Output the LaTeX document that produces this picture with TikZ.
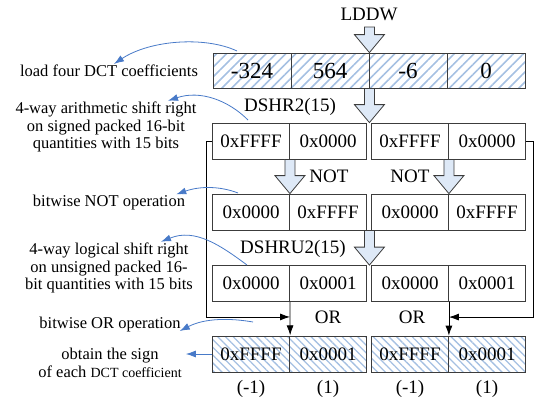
\documentclass[tikz,border=0pt]{standalone}
\usepackage{fontspec}
\setmainfont{Liberation Serif}
\usetikzlibrary{arrows.meta,calc,patterns.meta}

\definecolor{hatchblue}{RGB}{165,192,226}
\definecolor{arrowfill}{RGB}{222,233,247}
\definecolor{noteblue}{RGB}{72,122,200}
\definecolor{boxline}{RGB}{60,60,60}

% hollow block arrow from the level of #1 down to the tip #2
\newcommand{\fatarrow}[2]{%
  \path #1 coordinate (fa1) #2 coordinate (fa2);
  \draw[fat] let \p1=(fa1), \p2=(fa2) in
    (\x2-5pt,\y1) -- (\x2+5pt,\y1) -- (\x2+5pt,\y2+18pt) -- (\x2+15pt,\y2+18pt)
    -- (\x2,\y2) -- (\x2-15pt,\y2+18pt) -- (\x2-5pt,\y2+18pt) -- cycle;}

\begin{document}
\begin{tikzpicture}[x=1pt,y=-1pt,
  cell/.style={draw=boxline, line width=0.8pt, minimum width=77pt, minimum height=36pt,
    inner sep=0pt, font=\fontsize{19}{19}\selectfont},
  ldcell/.style={cell, minimum width=78pt, minimum height=35pt, font=\fontsize{23}{23}\selectfont,
    pattern={Lines[angle=45,distance=7pt,line width=1.6pt]}, pattern color=hatchblue},
  sgcell/.style={cell, pattern={Lines[angle=-45,distance=5.5pt,line width=1.3pt]}, pattern color=hatchblue},
  lbl/.style={inner sep=1pt, font=\fontsize{19}{19}\selectfont},
  remark/.style={inner sep=1pt, align=center, font=\fontsize{16.5}{17.5}\selectfont},
  fat/.style={draw=boxline, fill=arrowfill, line width=0.8pt, line join=miter},
  link/.style={draw=black, line width=0.8pt, -{Latex[length=10pt,width=7pt]}},
  note/.style={draw=noteblue, line width=0.8pt, -{Latex[length=10pt,width=7pt]}}]
\useasboundingbox (0,0) rectangle (536,399);

% loaded coefficients
\node[ldcell] (ld1) at (252,70.5) {-324};
\node[ldcell] (ld2) at (330,70.5) {564};
\node[ldcell] (ld3) at (408,70.5) {-6};
\node[ldcell] (ld4) at (486,70.5) {0};

% after arithmetic shift
\node[cell] (sr1) at (251,141) {0xFFFF};
\node[cell] (sr2) at (328,141) {0x0000};
\node[cell] (sr3) at (410,141) {0xFFFF};
\node[cell] (sr4) at (487,141) {0x0000};

% after NOT
\node[cell] (nt1) at (251,212) {0x0000};
\node[cell] (nt2) at (328,212) {0xFFFF};
\node[cell] (nt3) at (410,212) {0x0000};
\node[cell] (nt4) at (487,212) {0xFFFF};

% after logical shift
\node[cell] (lr1) at (251,283.5) {0x0000};
\node[cell] (lr2) at (328,283.5) {0x0001};
\node[cell] (lr3) at (410,283.5) {0x0000};
\node[cell] (lr4) at (487,283.5) {0x0001};

% signs
\node[sgcell] (sg1) at (251,354) {0xFFFF};
\node[sgcell] (sg2) at (328,354) {0x0001};
\node[sgcell] (sg3) at (410,354) {0xFFFF};
\node[sgcell] (sg4) at (487,354) {0x0001};

\node[lbl] (v1) at (251,389) {(-1)};
\node[lbl] (v2) at (328,389) {(1)};
\node[lbl] (v3) at (410,389) {(-1)};
\node[lbl] (v4) at (487,389) {(1)};

% instruction labels
\node[lbl] (lddw) at (369,14) {LDDW};
\node[lbl] (dshr) at (290,107) {DSHR2(15)};
\node[lbl] (notl) at (329,176) {NOT};
\node[lbl] (notr) at (410,176) {NOT};
\node[lbl] (dshru) at (293,249) {DSHRU2(15)};
\node[lbl] (orl) at (328,317) {OR};
\node[lbl] (orr) at (412,317) {OR};

% block arrows
\coordinate (lddwtop) at (369,27);
\fatarrow{(lddwtop)}{(ld2.north east)}
\fatarrow{(ld2.south east)}{(ld2.south east |- sr2.north)}
\fatarrow{(sr1.south east)}{(nt1.north east)}
\fatarrow{(sr3.south east)}{(nt3.north east)}
\fatarrow{(ld2.south east |- nt2.south)}{(ld2.south east |- lr2.north)}

% OR inputs
\coordinate (jl) at ($(lr1.south east)!0.45!(sg1.north east)$);
\coordinate (jr) at ($(lr3.south east)!0.45!(sg3.north east)$);
\draw[link] (sr1.west) -- ++(-5.5,0) |- (jl);
\draw[link] (sr4.east) -- ++(7,0) |- (jr);
\draw[link] (lr1.south east) -- (sg1.north east);
\draw[link] (lr3.south east) -- (sg3.north east);

% remarks
\node[remark] (t1) at (109,71) {load four DCT coefficients};
\node[remark] (t2) at (106,127) {4-way arithmetic shift right\\on signed packed 16-bit\\quantities with 15 bits};
\node[remark] (t3) at (109,203) {bitwise NOT operation};
\node[remark] (t4) at (109,268) {4-way logical shift right\\on unsigned packed 16-\\bit quantities with 15 bits};
\node[remark] (t5) at (110,325) {bitwise OR operation};
\node[remark] (t6) at (110,363) {obtain the sign\\of each {\fontsize{14}{14}\selectfont DCT coefficient}};

\coordinate (n1) at (237,51);
\coordinate (n2) at (248,120);
\coordinate (n3) at (238,193);
\coordinate (n4) at (247,265);
\coordinate (n5) at (253,322);
\draw[note] (n1) .. controls (205,36) and (150,40) .. ([xshift=5pt]t1.north);
\draw[note] (n2) .. controls (228,100) and (200,90) .. ([xshift=62pt]t2.north);
\draw[note] (n3) .. controls (220,186) and (200,186) .. ([xshift=-10pt]t3.north east);
\draw[note] (n4) .. controls (220,245) and (195,228) .. ([xshift=52pt]t4.north);
\draw[note] (n5) .. controls (230,318) and (205,318) .. ([xshift=-2pt,yshift=-6pt]t5.east);
\draw[note] (sg1.west) -- ([xshift=3pt]sg1.west -| t6.east);
\end{tikzpicture}
\end{document}
